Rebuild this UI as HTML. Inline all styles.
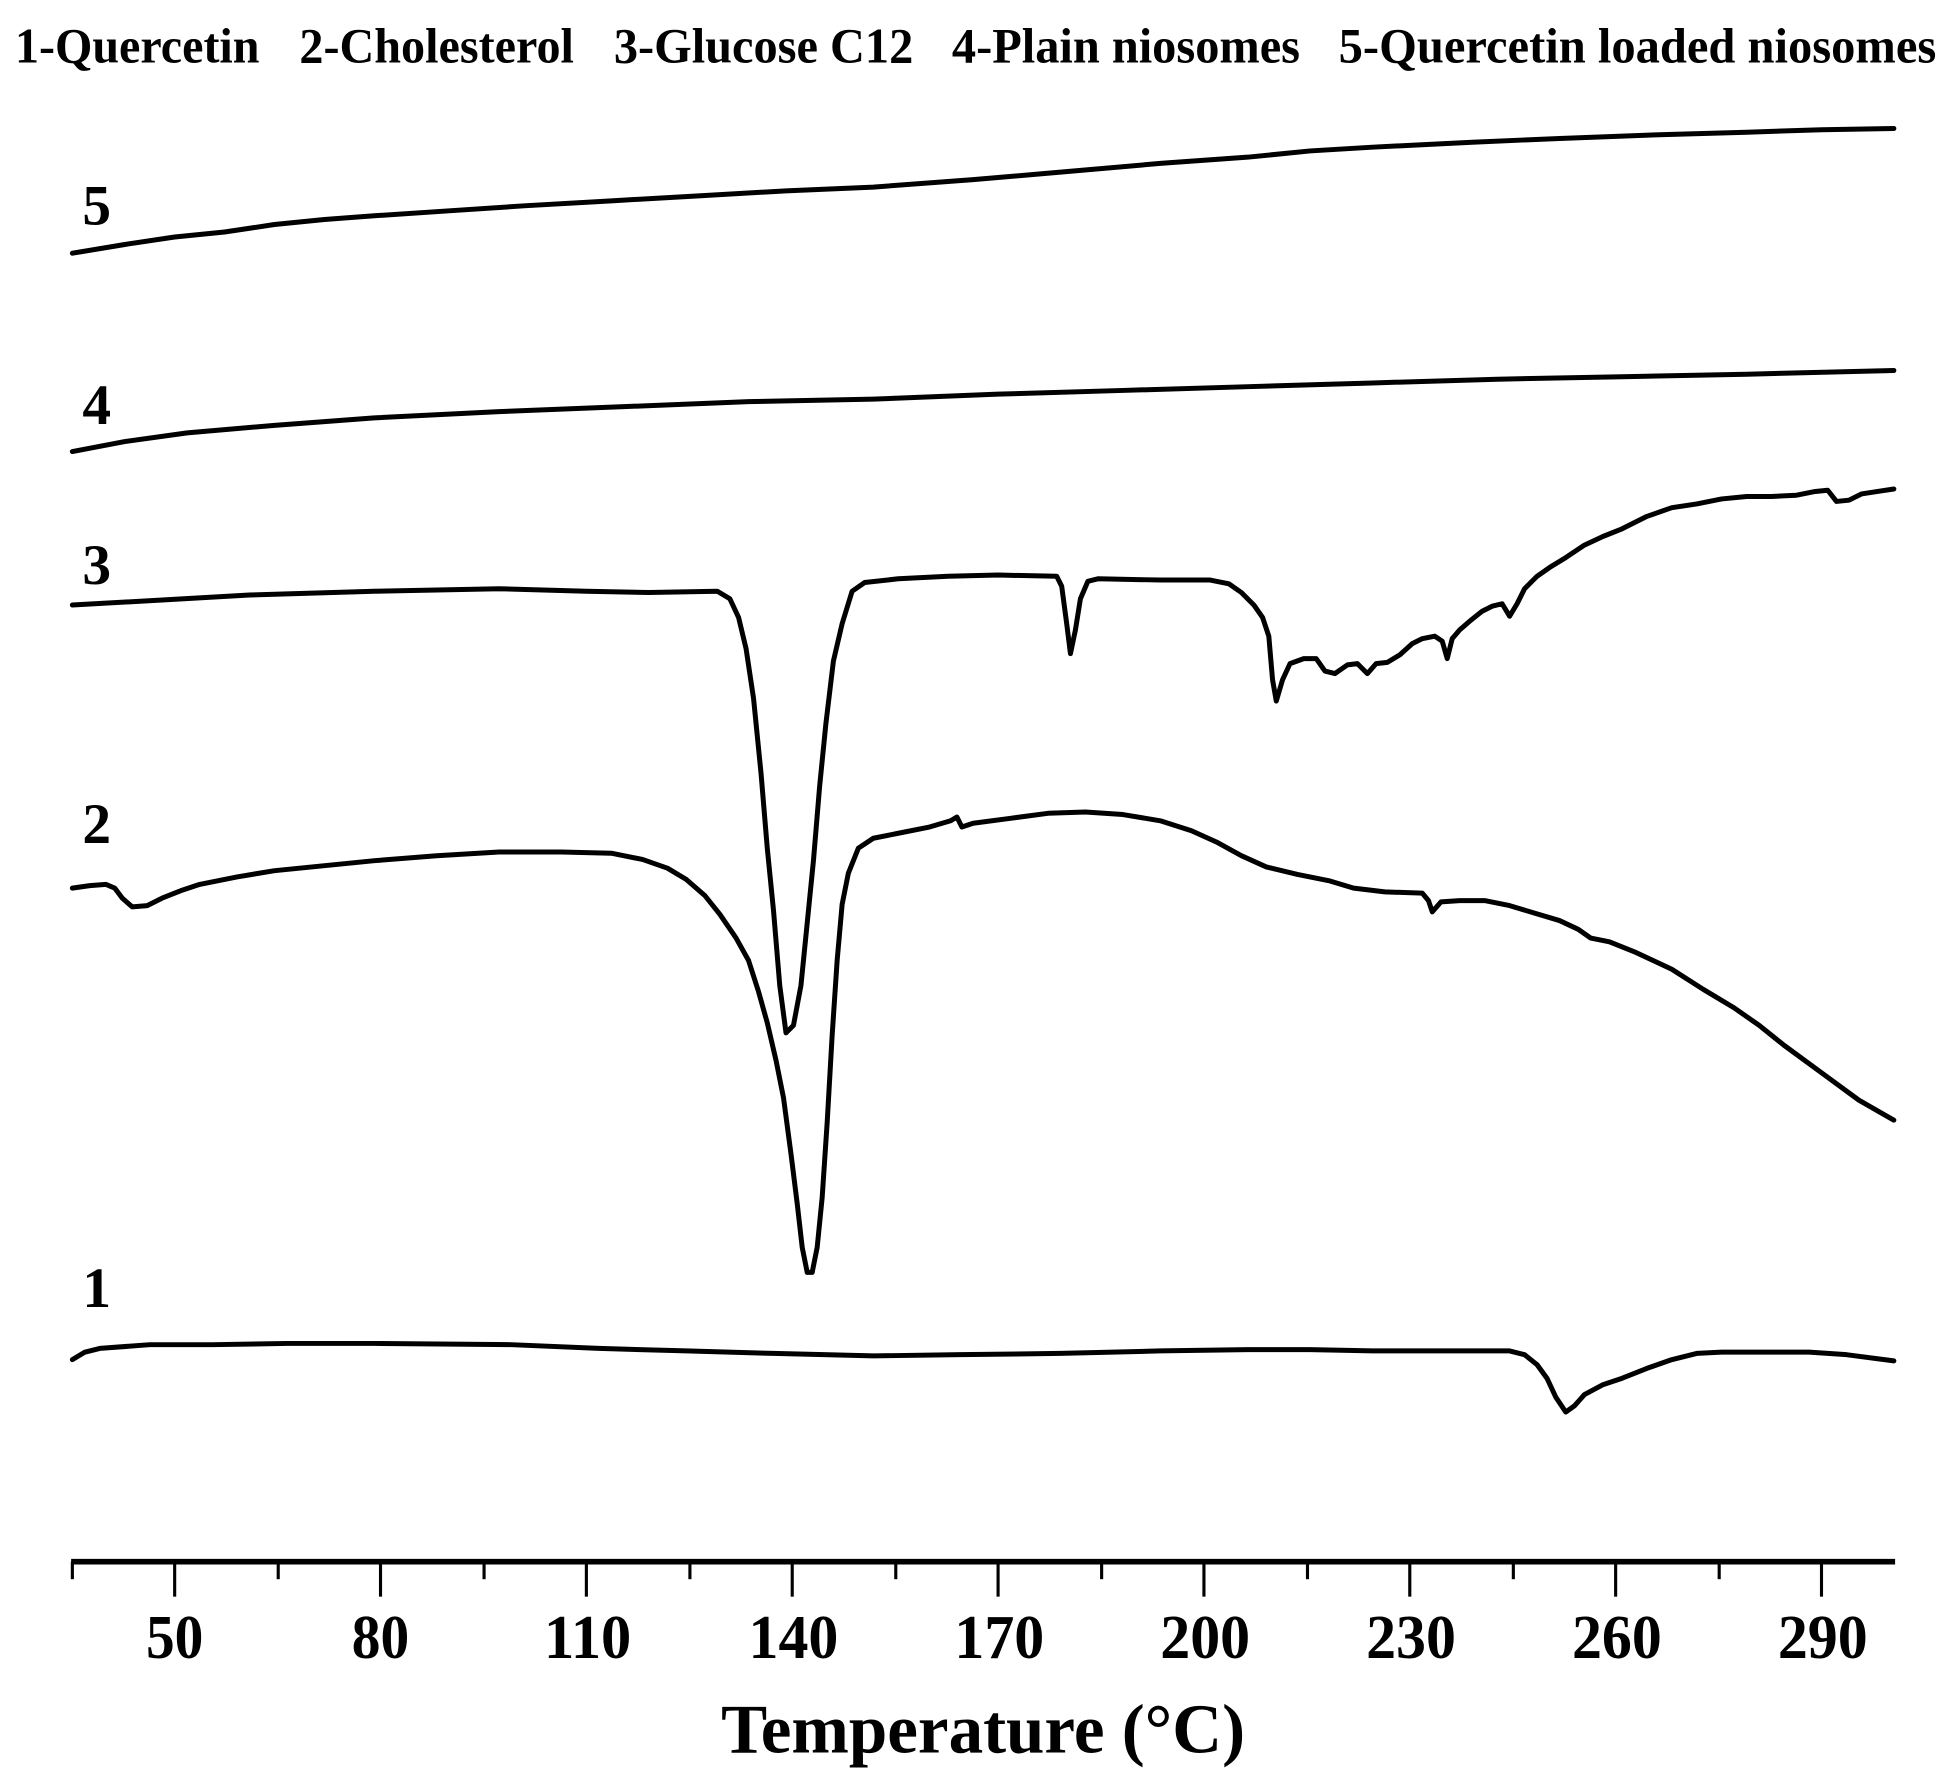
<!DOCTYPE html>
<html><head><meta charset="utf-8"><style>html,body{margin:0;padding:0;background:#fff}svg{display:block}</style></head>
<body>
<svg width="1950" height="1790" viewBox="0 0 1563 1435" preserveAspectRatio="none" xmlns="http://www.w3.org/2000/svg" font-family="'Liberation Serif', serif" font-weight="bold">
<g font-size="40" lengthAdjust="spacingAndGlyphs">
<text x="12" y="50" textLength="196" lengthAdjust="spacingAndGlyphs">1-Quercetin</text>
<text x="240" y="50" textLength="220" lengthAdjust="spacingAndGlyphs">2-Cholesterol</text>
<text x="492" y="50" textLength="240" lengthAdjust="spacingAndGlyphs">3-Glucose C12</text>
<text x="763" y="50" textLength="279" lengthAdjust="spacingAndGlyphs">4-Plain niosomes</text>
<text x="1073" y="50" textLength="479" lengthAdjust="spacingAndGlyphs">5-Quercetin loaded niosomes</text>
</g>
<g fill="none" stroke="#000" stroke-width="4" stroke-linejoin="round" stroke-linecap="round">
<polyline points="58,203 100,196 140,190 180,186 220,180 260,176 300,173 360,169 420,165 490,161 560,157 630,153 700,150 780,144 850,138 930,131 1000,126 1050,121 1100,118 1180,114 1250,111 1330,108 1400,106 1460,104 1518,103"/>
<polyline points="58,362 100,354 150,347 220,341 300,335 400,330 500,326 600,322 700,320 800,316 900,313 1000,310 1100,307 1200,304 1300,302 1400,300 1518,297"/>
<polyline points="58,485 130,481 200,477 300,474 400,472 470,474 520,475 575,474 585,480 592,495 598,520 604,560 610,620 615,680 620,730 625,790 630,828 636,822 642,790 647,740 652,690 657,630 662,580 668,530 675,500 683,474 693,467 720,464 760,462 800,461 847,462 851,470 855,500 858,524 862,505 866,480 872,466 880,464 930,465 970,465 985,468 995,475 1005,485 1012,495 1017,510 1020,545 1023,562 1028,545 1034,532 1045,528 1055,528 1062,538 1070,540 1080,533 1088,532 1096,540 1103,532 1112,531 1122,525 1132,516 1140,512 1150,510 1156,514 1160,528 1164,512 1170,505 1178,498 1188,490 1196,486 1204,484 1210,494 1216,484 1222,472 1232,462 1242,455 1255,447 1270,437 1285,430 1300,424 1320,414 1340,407 1360,404 1380,400 1400,398 1420,398 1440,397 1455,394 1465,393 1472,402 1482,401 1492,396 1505,394 1518,392"/>
<polyline points="58,712 72,710 85,709 92,712 98,720 106,727 118,726 130,720 145,714 160,709 190,703 220,698 260,694 300,690 350,686 400,683 450,683 490,684 515,689 535,696 550,705 565,718 577,733 590,752 600,770 608,795 615,820 622,850 628,880 634,925 639,965 643,1000 647,1020 651,1020 655,1000 659,960 663,900 667,830 671,770 675,725 680,700 688,680 700,672 720,668 745,663 762,658 767,655 771,663 780,660 810,656 840,652 870,651 900,653 930,658 955,666 975,675 995,686 1015,695 1040,701 1065,706 1085,712 1110,715 1140,716 1145,722 1148,731 1155,723 1170,722 1190,722 1210,726 1230,732 1250,738 1265,745 1275,752 1290,755 1310,763 1340,777 1365,793 1390,808 1410,822 1430,838 1460,860 1490,882 1518,898"/>
<polyline points="58,1090 68,1084 80,1081 120,1078 170,1078 230,1077 300,1077 410,1078 480,1081 550,1083 620,1085 700,1087 770,1086 850,1085 930,1083 1000,1082 1050,1082 1100,1083 1160,1083 1210,1083 1222,1086 1232,1094 1240,1105 1247,1120 1255,1132 1262,1127 1270,1118 1285,1110 1300,1105 1320,1097 1340,1090 1360,1085 1380,1084 1420,1084 1450,1084 1480,1086 1518,1091"/>
</g>
<g font-size="46">
<text x="66" y="180">5</text>
<text x="66" y="340">4</text>
<text x="66" y="468">3</text>
<text x="66" y="676">2</text>
<text x="66" y="1048">1</text>
</g>
<line x1="57" y1="1252" x2="1519" y2="1252" stroke="#000" stroke-width="4.5"/>
<g stroke="#000" stroke-width="2.5">
<line x1="58" y1="1252" x2="58" y2="1266"/><line x1="223" y1="1252" x2="223" y2="1266"/><line x1="388" y1="1252" x2="388" y2="1266"/><line x1="553" y1="1252" x2="553" y2="1266"/><line x1="718" y1="1252" x2="718" y2="1266"/><line x1="883" y1="1252" x2="883" y2="1266"/><line x1="1048" y1="1252" x2="1048" y2="1266"/><line x1="1213" y1="1252" x2="1213" y2="1266"/><line x1="1378" y1="1252" x2="1378" y2="1266"/>
<line x1="140" y1="1252" x2="140" y2="1280"/><line x1="305" y1="1252" x2="305" y2="1280"/><line x1="470" y1="1252" x2="470" y2="1280"/><line x1="635" y1="1252" x2="635" y2="1280"/><line x1="800" y1="1252" x2="800" y2="1280"/><line x1="965" y1="1252" x2="965" y2="1280"/><line x1="1130" y1="1252" x2="1130" y2="1280"/><line x1="1295" y1="1252" x2="1295" y2="1280"/><line x1="1460" y1="1252" x2="1460" y2="1280"/>
</g>
<g font-size="50" text-anchor="middle">
<text x="140" y="1329" textLength="46" lengthAdjust="spacingAndGlyphs">50</text><text x="305" y="1329" textLength="46" lengthAdjust="spacingAndGlyphs">80</text><text x="471" y="1329" textLength="70" lengthAdjust="spacingAndGlyphs">110</text><text x="636" y="1329" textLength="72" lengthAdjust="spacingAndGlyphs">140</text><text x="801" y="1329" textLength="72" lengthAdjust="spacingAndGlyphs">170</text><text x="966" y="1329" textLength="72" lengthAdjust="spacingAndGlyphs">200</text><text x="1131" y="1329" textLength="72" lengthAdjust="spacingAndGlyphs">230</text><text x="1296" y="1329" textLength="72" lengthAdjust="spacingAndGlyphs">260</text><text x="1461" y="1329" textLength="72" lengthAdjust="spacingAndGlyphs">290</text>
</g>
<text x="788" y="1405" font-size="56" text-anchor="middle" textLength="420" lengthAdjust="spacingAndGlyphs">Temperature (°C)</text>
</svg>
</body></html>
